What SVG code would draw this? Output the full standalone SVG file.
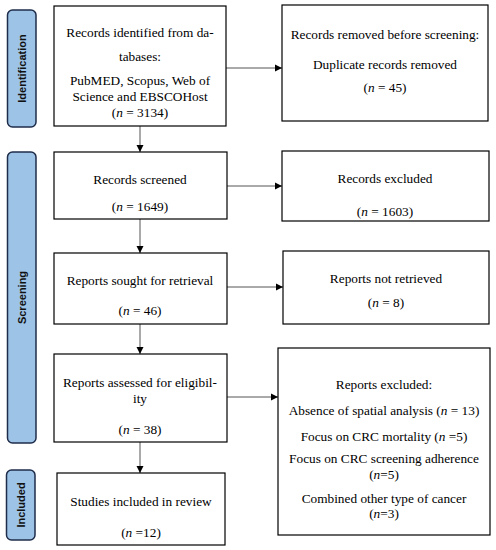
<svg xmlns="http://www.w3.org/2000/svg" width="496" height="550" viewBox="0 0 496 550">
<style>
.box{fill:#fff;stroke:#000;stroke-width:1.2}
.side{fill:#9dc3e6;stroke:#1f2d4a;stroke-width:1.5}
.t{font-family:"Liberation Serif","Times New Roman",serif;font-size:13.3px;fill:#000;text-anchor:middle}
.s{font-family:"Liberation Sans",Arial,sans-serif;font-size:11px;font-weight:bold;fill:#111;text-anchor:middle}
.c{stroke:#555;stroke-width:1;fill:none;marker-end:url(#ah)}
</style>
<defs>
<marker id="ah" markerWidth="8" markerHeight="8" refX="7" refY="4" orient="auto" markerUnits="userSpaceOnUse">
<path d="M0,0.5 L7,4 L0,7.5 Z" fill="#000"/>
</marker>
</defs>
<rect width="496" height="550" fill="#fff"/>
<g id="phase-identification">
<rect class="side" x="7.5" y="10" width="28.5" height="117" rx="5"/>
<text class="s" transform="translate(25.5,68.5) rotate(-90)">Identification</text>
</g>
<g id="phase-screening">
<rect class="side" x="7.5" y="152" width="28.5" height="291" rx="5"/>
<text class="s" transform="translate(25.5,297.5) rotate(-90)">Screening</text>
</g>
<g id="phase-included">
<rect class="side" x="6.5" y="470" width="28.5" height="70" rx="5"/>
<text class="s" transform="translate(24.5,505) rotate(-90)">Included</text>
</g>
<g id="connectors">
<line class="c" x1="226" y1="68" x2="282" y2="68"/>
<line class="c" x1="140" y1="126" x2="140" y2="152"/>
<line class="c" x1="227" y1="186" x2="282" y2="186"/>
<line class="c" x1="140" y1="219" x2="140" y2="253"/>
<line class="c" x1="227" y1="287" x2="283" y2="287"/>
<line class="c" x1="140" y1="324" x2="140" y2="354"/>
<line class="c" x1="227" y1="397" x2="278" y2="397"/>
<line class="c" x1="140" y1="442" x2="140" y2="473"/>
</g>
<g id="records-identified">
<rect class="box" x="54" y="6" width="172" height="120"/>
<text class="t" x="140" y="37">Records identified from da-</text>
<text class="t" x="140" y="61">tabases:</text>
<text class="t" x="140" y="85">PubMED, Scopus, Web of</text>
<text class="t" x="140" y="101">Science and EBSCOHost</text>
<text class="t" x="140" y="117">(<tspan font-style="italic">n</tspan> = 3134)</text>
</g>
<g id="records-removed">
<rect class="box" x="282" y="5" width="206" height="116"/>
<text class="t" x="385" y="39">Records removed before screening:</text>
<text class="t" x="385" y="69">Duplicate records removed</text>
<text class="t" x="385" y="92">(<tspan font-style="italic">n</tspan> = 45)</text>
</g>
<g id="records-screened">
<rect class="box" x="54" y="152" width="173" height="67"/>
<text class="t" x="140" y="184">Records screened</text>
<text class="t" x="140" y="211">(<tspan font-style="italic">n</tspan> = 1649)</text>
</g>
<g id="records-excluded">
<rect class="box" x="282" y="151" width="207" height="70"/>
<text class="t" x="385" y="183">Records excluded</text>
<text class="t" x="385" y="216">(<tspan font-style="italic">n</tspan> = 1603)</text>
</g>
<g id="reports-sought">
<rect class="box" x="54" y="253" width="173" height="71"/>
<text class="t" x="140" y="285">Reports sought for retrieval</text>
<text class="t" x="140" y="315">(<tspan font-style="italic">n</tspan> = 46)</text>
</g>
<g id="reports-not-retrieved">
<rect class="box" x="283" y="251" width="206" height="73"/>
<text class="t" x="386" y="283">Reports not retrieved</text>
<text class="t" x="386" y="307">(<tspan font-style="italic">n</tspan> = 8)</text>
</g>
<g id="reports-assessed">
<rect class="box" x="54" y="354" width="173" height="88"/>
<text class="t" x="140" y="387">Reports assessed for eligibil-</text>
<text class="t" x="140" y="403">ity</text>
<text class="t" x="140" y="434">(<tspan font-style="italic">n</tspan> = 38)</text>
</g>
<g id="reports-excluded">
<rect class="box" x="278" y="348" width="212" height="187"/>
<text class="t" x="384" y="389">Reports excluded:</text>
<text class="t" x="384" y="415">Absence of spatial analysis (<tspan font-style="italic">n</tspan> = 13)</text>
<text class="t" x="384" y="441">Focus on CRC mortality (<tspan font-style="italic">n</tspan> =5)</text>
<text class="t" x="384" y="463">Focus on CRC screening adherence</text>
<text class="t" x="384" y="479">(<tspan font-style="italic">n</tspan>=5)</text>
<text class="t" x="384" y="503">Combined other type of cancer</text>
<text class="t" x="384" y="518">(<tspan font-style="italic">n</tspan>=3)</text>
</g>
<g id="studies-included">
<rect class="box" x="57" y="473" width="168" height="72"/>
<text class="t" x="141" y="506">Studies included in review</text>
<text class="t" x="141" y="537">(<tspan font-style="italic">n</tspan> =12)</text>
</g>
</svg>
